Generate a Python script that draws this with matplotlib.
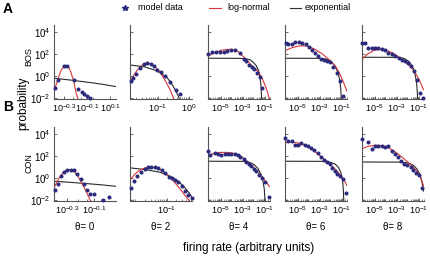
import numpy as np
import matplotlib
matplotlib.use("Agg")
import matplotlib.pyplot as plt
from matplotlib.lines import Line2D
from matplotlib.ticker import FixedLocator, FixedFormatter, NullFormatter, LogLocator

plt.rcParams['font.family'] = ['Liberation Sans', 'DejaVu Sans']
plt.rcParams['mathtext.fontset'] = 'custom'
plt.rcParams['mathtext.rm'] = 'Liberation Sans'
plt.rcParams['mathtext.it'] = 'Liberation Sans:italic'
plt.rcParams['mathtext.bf'] = 'Liberation Sans:bold'

# all values are log10(firing rate) / log10(probability)

# --- BOS row ---
bos0_dot_x = [-0.381, -0.352, -0.300, -0.271, -0.213, -0.176, -0.146, -0.123, -0.097, -0.074]
bos0_dot_y = [-1.13, -0.38, 0.89, 0.89, -0.38, -1.22, -1.44, -1.65, -1.83, -1.98]
bos0_ln_x = [-0.387, -0.352, -0.326, -0.291, -0.265, -0.239, -0.213, -0.196, -0.178]
bos0_ln_y = [-1.4, -0.3, 0.5, 0.95, 0.9, 0.3, -0.6, -1.5, -2.1]
bos0_ex_x = [-0.387, -0.248, -0.109, 0.030, 0.152]
bos0_ex_y = [-0.22, -0.38, -0.56, -0.76, -0.98]

bos2_dot_x = [-1.881, -1.797, -1.694, -1.571, -1.452, -1.345, -1.235, -1.129, -1.016, -0.887,
              -0.758, -0.613, -0.435, -0.306]
bos2_dot_y = [-0.47, -0.24, 0.17, 0.75, 1.10, 1.19, 1.10, 0.86, 0.55, 0.32, -0.02, -0.53, -1.24, -1.64]
bos2_ln_x = [-1.903, -1.774, -1.645, -1.516, -1.387, -1.258, -1.129, -1.0, -0.871, -0.742, -0.613, -0.484]
bos2_ln_y = [-0.6, 0.1, 0.6, 0.95, 1.12, 1.1, 0.9, 0.55, 0.05, -0.55, -1.25, -2.1]
bos2_ex_x = [-1.903, -1.419, -1.032, -0.710, -0.516, -0.387, -0.306]
bos2_ex_y = [0.98, 0.8, 0.45, -0.15, -0.9, -1.6, -2.1]

bos4_dot_x = [-6.17, -5.80, -5.44, -5.12, -4.76, -4.45, -4.09, -3.75, -3.29, -2.92, -2.68, -2.43,
              -2.18, -1.94, -1.70, -1.45, -1.21]
bos4_dot_y = [1.95, 2.13, 2.16, 2.19, 2.19, 2.22, 2.34, 2.37, 2.04, 1.50, 1.37, 0.98, 0.77, 0.59,
              0.28, -0.13, -1.13]
bos4_ln_x = [-6.2, -5.557, -4.913, -4.178, -3.443, -2.800, -2.156, -1.605, -1.237, -0.870, -0.548]
bos4_ln_y = [1.8, 2.12, 2.32, 2.4, 2.2, 1.6, 0.9, 0.4, -0.2, -1.05, -2.1]
bos4_ex_x = [-6.2, -3.259, -2.708, -2.340, -2.065, -1.789, -1.559, -1.421, -1.329, -1.265]
bos4_ex_y = [1.59, 1.58, 1.55, 1.45, 1.25, 0.95, 0.5, -0.1, -0.9, -2.1]

bos6_dot_x = [-6.154, -5.879, -5.557, -5.254, -4.951, -4.638, -4.289, -3.995, -3.673, -3.397,
              -3.122, -2.846, -2.570, -2.294, -2.019, -1.743, -1.421, -1.118, -0.824]
bos6_dot_y = [2.94, 2.91, 2.84, 3.03, 3.02, 2.94, 2.88, 2.58, 2.34, 2.04, 1.75, 1.52, 1.43, 1.37,
              1.21, 0.84, 0.21, -0.47, -1.85]
bos6_ln_x = [-6.2, -5.557, -4.913, -4.270, -3.535, -2.800, -2.065, -1.513, -1.146, -0.778, -0.502]
bos6_ln_y = [2.27, 2.55, 2.7, 2.72, 2.45, 2.0, 1.4, 0.8, 0.15, -0.7, -1.4]
bos6_ex_x = [-6.2, -2.984, -2.432, -1.973, -1.605, -1.329, -1.164, -1.072, -1.026]
bos6_ex_y = [1.59, 1.58, 1.52, 1.3, 0.9, 0.3, -0.4, -1.2, -2.1]

bos8_dot_x = [-6.18, -5.952, -5.603, -5.281, -4.978, -4.684, -4.362, -4.059, -3.765, -3.443,
              -3.122, -2.800, -2.524, -2.248, -1.973, -1.697, -1.421, -1.146, -0.888, -0.594]
bos8_dot_y = [3.0, 3.0, 2.49, 2.56, 2.56, 2.56, 2.40, 2.34, 2.11, 1.98, 1.77, 1.59, 1.41, 1.30,
              1.16, 0.89, 0.44, -0.38, -1.56, -2.05]
bos8_ln_x = [-6.2, -5.649, -5.097, -4.546, -3.903, -3.259, -2.616, -1.973, -1.421, -0.962, -0.548]
bos8_ln_y = [1.5, 2.0, 2.3, 2.4, 2.3, 2.0, 1.55, 1.05, 0.45, -0.3, -1.25]
bos8_ex_x = [-6.2, -2.892, -2.340, -1.881, -1.605, -1.376, -1.238, -1.146, -1.082]
bos8_ex_y = [1.68, 1.67, 1.58, 1.3, 0.9, 0.4, -0.3, -1.0, -2.1]

# --- CON row ---
con0_dot_x = [-0.391, -0.367, -0.347, -0.322, -0.298, -0.273, -0.248, -0.224, -0.199, -0.174,
              -0.150, -0.130, -0.100, -0.031, 0.013]
con0_dot_y = [-1.13, -0.53, 0.17, 0.53, 0.68, 0.74, 0.68, 0.37, -0.13, -0.53, -1.13, -1.44,
              -1.44, -2.03, -1.73]
con0_ln_x = [-0.396, -0.367, -0.337, -0.307, -0.278, -0.248, -0.219, -0.189, -0.159, -0.130, -0.122]
con0_ln_y = [-0.9, -0.2, 0.35, 0.68, 0.75, 0.6, 0.15, -0.5, -1.2, -2.0, -2.1]
con0_ex_x = [-0.396, -0.278, -0.159, -0.041, 0.063]
con0_ex_y = [-0.31, -0.41, -0.52, -0.64, -0.77]

con2_dot_x = [-2.161, -2.065, -1.958, -1.848, -1.726, -1.619, -1.510, -1.403, -1.297, -1.177,
              -1.055, -0.952, -0.855, -0.752, -0.645, -0.532, -0.419, -0.323, -0.210]
con2_dot_y = [-0.89, -0.26, 0.14, 0.51, 0.84, 0.95, 0.95, 0.95, 0.93, 0.69, 0.39, 0.09, -0.02,
              -0.21, -0.42, -0.74, -1.19, -1.57, -1.82]
con2_ln_x = [-2.194, -2.032, -1.871, -1.710, -1.548, -1.387, -1.226, -1.065, -0.903, -0.742,
             -0.581, -0.419, -0.274]
con2_ln_y = [-0.2, 0.35, 0.7, 0.9, 0.98, 0.92, 0.75, 0.45, 0.05, -0.45, -1.0, -1.6, -2.1]
con2_ex_x = [-2.194, -1.710, -1.226, -0.903, -0.645, -0.452, -0.290, -0.194]
con2_ex_y = [0.9, 0.75, 0.5, 0.15, -0.3, -0.8, -1.35, -1.75]

con4_dot_x = [-6.18, -5.989, -5.584, -5.281, -4.978, -4.665, -4.362, -4.059, -3.746, -3.443,
              -3.232, -2.919, -2.680, -2.432, -2.221, -2.000, -1.761, -1.513, -1.210, -0.989, -0.594]
con4_dot_y = [2.40, 2.04, 2.27, 2.18, 2.09, 2.18, 2.18, 2.18, 2.18, 2.04, 1.89, 1.68, 1.43, 1.28,
              1.07, 0.83, 0.60, 0.28, -0.02, -0.38, -1.73]
con4_ln_x = [-6.2, -5.649, -5.097, -4.362, -3.719, -3.167, -2.616, -2.065, -1.605, -1.146, -0.870, -0.548]
con4_ln_y = [2.0, 2.22, 2.3, 2.3, 2.2, 1.95, 1.5, 1.0, 0.5, 0.0, -0.35, -0.8]
con4_ex_x = [-6.2, -2.984, -2.432, -1.973, -1.605, -1.329, -1.146, -1.026, -0.962]
con4_ex_y = [1.50, 1.49, 1.42, 1.2, 0.85, 0.3, -0.3, -1.0, -2.1]

con6_dot_x = [-6.172, -5.924, -5.584, -5.309, -5.005, -4.702, -4.390, -4.086, -3.783, -3.507,
              -3.195, -2.892, -2.616, -2.340, -2.092, -1.881, -1.633, -1.421, -1.127, -0.870, -0.613]
con6_dot_y = [3.59, 3.29, 3.36, 2.99, 2.99, 3.15, 2.95, 2.90, 2.74, 2.56, 2.27, 1.90, 1.63, 1.41,
              1.23, 0.85, 0.62, 0.37, 0.13, -0.12, -1.37]
con6_ln_x = [-6.2, -5.557, -4.913, -4.270, -3.627, -2.984, -2.340, -1.697, -1.146, -0.778, -0.502]
con6_ln_y = [3.18, 3.22, 3.15, 2.9, 2.5, 2.0, 1.5, 0.9, 0.3, -0.2, -0.7]
con6_ex_x = [-6.2, -2.800, -2.065, -1.605, -1.284, -1.054, -0.916, -0.842, -0.796]
con6_ex_y = [1.50, 1.49, 1.42, 1.25, 0.95, 0.45, -0.2, -1.0, -2.1]

con8_dot_x = [-6.18, -5.603, -5.299, -4.987, -4.684, -4.380, -4.068, -3.765, -3.461, -3.149,
              -2.846, -2.588, -2.313, -2.037, -1.725, -1.467, -1.192, -0.916, -0.640]
con8_dot_y = [3.53, 3.20, 2.59, 2.90, 2.90, 2.90, 2.81, 2.90, 2.41, 2.16, 1.91, 1.52, 1.25, 1.19,
              1.00, 0.71, 0.46, 0.24, -0.94]
con8_ln_x = [-6.2, -5.649, -5.005, -4.362, -3.719, -3.075, -2.432, -1.789, -1.237, -0.870, -0.548]
con8_ln_y = [2.62, 2.85, 2.95, 2.92, 2.7, 2.3, 1.8, 1.25, 0.7, 0.2, -0.7]
con8_ex_x = [-6.2, -2.708, -1.973, -1.513, -1.146, -0.870, -0.686, -0.548]
con8_ex_y = [1.43, 1.42, 1.35, 1.15, 0.8, 0.3, -0.4, -1.2]

thetas = [0, 2, 4, 6, 8]
xlims_bos = [(-0.387, 0.152), (-1.903, 0.097), (-6.2, -0.5), (-6.2, -0.5), (-6.2, -0.5)]
xlims_con = [(-0.396, 0.063), (-2.194, -0.194), (-6.2, -0.5), (-6.2, -0.5), (-6.2, -0.5)]
xticks_bos = [[-0.3, -0.1, 0.1], [-1, 0], [-5, -3, -1], [-5, -3, -1], [-5, -3, -1]]
xticks_con = [[-0.3, -0.1], [-1], [-5, -3, -1], [-5, -3, -1], [-5, -3, -1]]
yticks = [-2, 0, 2, 4]
ylim = (-2.1, 4.6)

bos_sets = [
    (bos0_dot_x, bos0_dot_y, bos0_ln_x, bos0_ln_y, bos0_ex_x, bos0_ex_y),
    (bos2_dot_x, bos2_dot_y, bos2_ln_x, bos2_ln_y, bos2_ex_x, bos2_ex_y),
    (bos4_dot_x, bos4_dot_y, bos4_ln_x, bos4_ln_y, bos4_ex_x, bos4_ex_y),
    (bos6_dot_x, bos6_dot_y, bos6_ln_x, bos6_ln_y, bos6_ex_x, bos6_ex_y),
    (bos8_dot_x, bos8_dot_y, bos8_ln_x, bos8_ln_y, bos8_ex_x, bos8_ex_y),
]
con_sets = [
    (con0_dot_x, con0_dot_y, con0_ln_x, con0_ln_y, con0_ex_x, con0_ex_y),
    (con2_dot_x, con2_dot_y, con2_ln_x, con2_ln_y, con2_ex_x, con2_ex_y),
    (con4_dot_x, con4_dot_y, con4_ln_x, con4_ln_y, con4_ex_x, con4_ex_y),
    (con6_dot_x, con6_dot_y, con6_ln_x, con6_ln_y, con6_ex_x, con6_ex_y),
    (con8_dot_x, con8_dot_y, con8_ln_x, con8_ln_y, con8_ex_x, con8_ex_y),
]

DOT_C = '#2b2a7c'
RED_C = '#d8363a'
EXP_C = '#2a2a2a'
AX_C = '#555555'

W, H = 430, 258
fig = plt.figure(figsize=(W / 100, H / 100), dpi=100)
fig.patch.set_facecolor('white')

lefts = [54, 130, 208, 285, 362]
tops = [25, 127]
pw, ph = 62, 74


def fmt(v):
    if float(v).is_integer():
        return r'$10^{%d}$' % int(v)
    return r'$10^{%g}$' % v


def panel(left, top, data, xl, xt, first):
    ax = fig.add_axes([left / W, 1 - (top + ph) / H, pw / W, ph / H])
    dx, dy, lx, ly, ex, ey = [np.array(a) for a in data]
    ax.plot(10 ** ex, 10 ** ey, color=EXP_C, lw=0.8)
    ax.plot(10 ** lx, 10 ** ly, color=RED_C, lw=0.8)
    ax.plot(10 ** dx, 10 ** dy, 'o', ms=1.9, color=DOT_C, mec=DOT_C, clip_on=False, zorder=5)
    ax.set_xscale('log')
    ax.set_yscale('log')
    ax.set_xlim(10 ** xl[0], 10 ** xl[1])
    ax.set_ylim(10 ** ylim[0], 10 ** ylim[1])
    ax.xaxis.set_major_locator(FixedLocator(10 ** np.array(xt, dtype=float)))
    ax.xaxis.set_major_formatter(FixedFormatter([fmt(v) for v in xt]))
    ax.xaxis.set_minor_locator(LogLocator(base=10, subs=np.arange(2, 10), numticks=20))
    ax.xaxis.set_minor_formatter(NullFormatter())
    ax.yaxis.set_major_locator(FixedLocator(10 ** np.array(yticks, dtype=float)))
    ax.yaxis.set_minor_locator(FixedLocator([]))
    if first:
        ax.yaxis.set_major_formatter(FixedFormatter([fmt(v) for v in yticks]))
    else:
        ax.yaxis.set_major_formatter(NullFormatter())
    for s in ['top', 'right']:
        ax.spines[s].set_visible(False)
    for s in ['left', 'bottom']:
        ax.spines[s].set_color(AX_C)
        ax.spines[s].set_linewidth(0.8)
    ax.tick_params(which='major', direction='in', length=2.5, width=0.6, color=AX_C,
                   labelsize=6.5, pad=2.5)
    ax.tick_params(axis='y', labelsize=7)
    ax.tick_params(which='minor', direction='in', length=1.3, width=0.5, color=AX_C)
    return ax


for i in range(5):
    panel(lefts[i], tops[0], bos_sets[i], xlims_bos[i], xticks_bos[i], i == 0)
    panel(lefts[i], tops[1], con_sets[i], xlims_con[i], xticks_con[i], i == 0)
    fig.text((lefts[i] + pw / 2) / W, 1 - 227 / H, '\u03b8= %d' % thetas[i],
             ha='center', va='center', fontsize=7)


def ftext(x, y, s, **kw):
    fig.text(x / W, 1 - y / H, s, **kw)


ftext(3, 9, 'A', fontsize=10, fontweight='bold', va='center')
ftext(3, 107, 'B', fontsize=10, fontweight='bold', va='center')
ftext(23, 103, 'probability', rotation=90, fontsize=8.5, ha='center', va='center')
ftext(29, 57, 'BOS', rotation=90, fontsize=6.5, ha='center', va='center')
ftext(29, 163, 'CON', rotation=90, fontsize=6.5, ha='center', va='center')
ftext(249, 248, 'firing rate (arbitrary units)', fontsize=8.5, ha='center', va='center')

# legend
fig.add_artist(Line2D([125 / W], [1 - 7.5 / H], marker='*', ms=4, color=DOT_C, lw=0))
ftext(138, 7.5, 'model data', fontsize=6.5, va='center')
fig.add_artist(Line2D([209 / W, 221 / W], [1 - 7.5 / H] * 2, color=RED_C, lw=0.8))
ftext(227, 7.5, 'log-normal', fontsize=6.5, va='center')
fig.add_artist(Line2D([290 / W, 301 / W], [1 - 7.5 / H] * 2, color=EXP_C, lw=0.8))
ftext(305, 7.5, 'exponential', fontsize=6.5, va='center')

fig.savefig('out.png', dpi=100, facecolor='white')
